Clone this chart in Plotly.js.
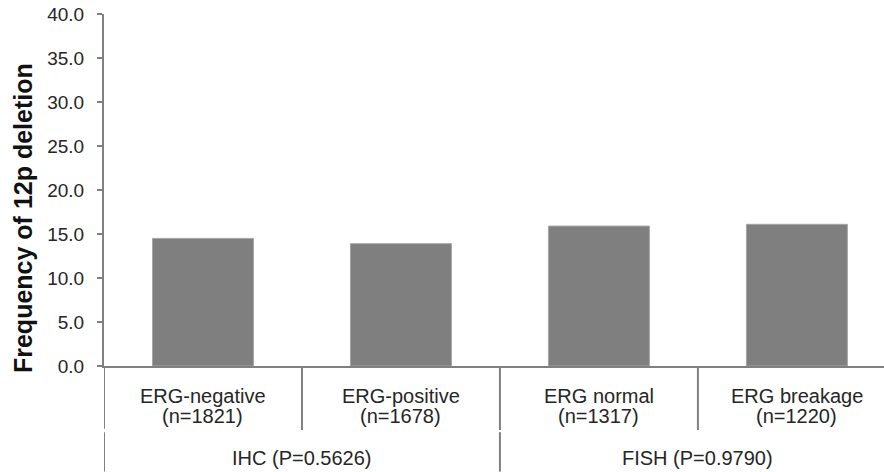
<!DOCTYPE html>
<html>
<head>
<meta charset="utf-8">
<script src="https://cdn.plot.ly/plotly-3.0.1.min.js"></script>
<style>html,body{margin:0;padding:0;background:#fff;}#chart{width:884px;height:472px;}</style>
</head>
<body>
<div id="chart"></div>
<script>
var categories = ["ERG-negative", "ERG-positive", "ERG normal", "ERG breakage"];
var sampleSizes = ["n=1821", "n=1678", "n=1317", "n=1220"];
var frequencies = [14.5, 13.9, 15.9, 16.1];
var groups = ["IHC (P=0.5626)", "FISH (P=0.9790)"];
var groupMembers = [[0, 1], [2, 3]];
var yTitle = "Frequency of 12p deletion";

var FONT = "Liberation Sans, Arial, sans-serif";
var idx = categories.map(function(_, i){ return i; });

var trace = {
  type: "bar",
  x: idx,
  y: frequencies,
  width: 0.51,
  marker: {color: "#7f7f7f", line: {color: "#a6a6a6", width: 1}},
  hoverinfo: "skip"
};

var lineStyle = {color: "#808080", width: 2};
var shapes = [];
for (var i = 0; i < categories.length - 1; i++) {
  var b = i + 0.5;
  shapes.push({type: "line", xref: "x", yref: "paper", x0: b, x1: b, y0: 0, y1: -0.182, line: lineStyle});
}
shapes.push({type: "line", xref: "x", yref: "paper", x0: -0.5, x1: -0.5, y0: 0, y1: -0.178, line: lineStyle});
shapes.push({type: "line", xref: "x", yref: "paper", x0: -0.5, x1: -0.5, y0: -0.188, y1: -0.30, line: lineStyle});
groupMembers.forEach(function(m, g){
  if (g === 0) return;
  var b = m[0] - 0.5;
  shapes.push({type: "line", xref: "x", yref: "paper", x0: b, x1: b, y0: -0.188, y1: -0.30, line: lineStyle});
});

var labelFont = {family: FONT, size: 20, color: "#262626"};
var annotations = [];
categories.forEach(function(c, i){
  annotations.push({text: c, xref: "x", yref: "paper", x: i, y: -0.085,
    xanchor: "center", yanchor: "middle", showarrow: false, font: labelFont});
  annotations.push({text: "(" + sampleSizes[i] + ")", xref: "x", yref: "paper", x: i, y: -0.143,
    xanchor: "center", yanchor: "middle", showarrow: false, font: labelFont});
});
groups.forEach(function(gname, g){
  var m = groupMembers[g];
  annotations.push({
    text: gname, xref: "x", yref: "paper",
    x: (m[0] + m[m.length - 1]) / 2, y: -0.261,
    xanchor: "center", yanchor: "middle", showarrow: false, font: labelFont
  });
});
annotations.push({
  text: "<b>" + yTitle + "</b>", xref: "paper", yref: "paper",
  x: -0.104, y: 0.42, xanchor: "center", yanchor: "middle",
  textangle: -90, showarrow: false,
  font: {family: FONT, size: 25, color: "#111"}
});

var layout = {
  width: 884, height: 472,
  margin: {l: 104, r: 0, t: 14, b: 106},
  paper_bgcolor: "#fff", plot_bgcolor: "#fff",
  showlegend: false,
  xaxis: {
    range: [-0.5, 3.44],
    tickmode: "array", tickvals: idx, showticklabels: false,
    ticks: "", showgrid: false, zeroline: false,
    showline: true, linecolor: "#808080", linewidth: 2,
    fixedrange: true
  },
  yaxis: {
    range: [0, 40], dtick: 5, tick0: 0, tickformat: ".1f",
    ticks: "outside", ticklen: 5, tickcolor: "#808080", tickwidth: 2,
    showgrid: false, zeroline: false,
    showline: true, linecolor: "#808080", linewidth: 2,
    tickfont: {family: FONT, size: 19, color: "#262626"},
    ticklabelstandoff: 9,
    automargin: false,
    fixedrange: true
  },
  shapes: shapes,
  annotations: annotations
};

Plotly.newPlot("chart", [trace], layout, {displayModeBar: false, staticPlot: true});
</script>
</body>
</html>
